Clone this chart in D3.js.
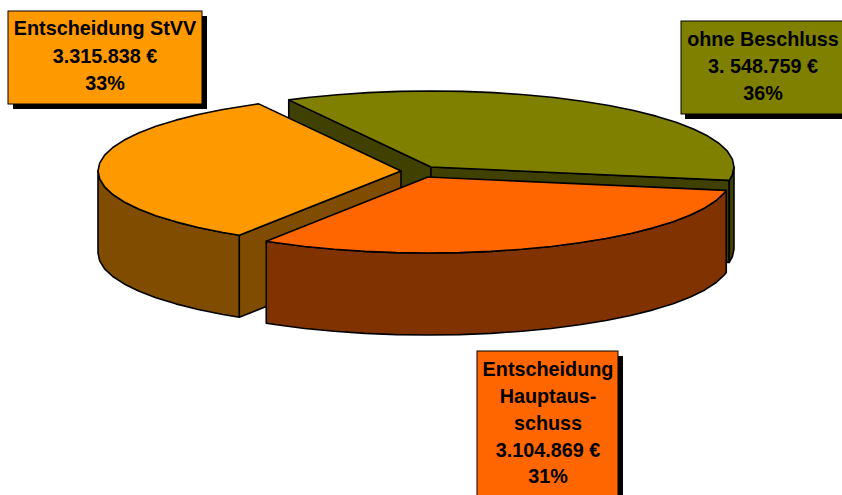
<!DOCTYPE html>
<html><head><meta charset="utf-8">
<style>html,body{margin:0;padding:0;background:#fff;overflow:hidden}svg{display:block}
text{font-family:"Liberation Sans",Arial,sans-serif;font-weight:bold;font-size:19.8px;text-anchor:middle;fill:#000}</style>
<script src="https://cdnjs.cloudflare.com/ajax/libs/d3/7.8.5/d3.min.js"></script>
</head><body><svg id="c" width="842" height="495"></svg>
<script>
const categories = ["ohne Beschluss", "Entscheidung Hauptausschuss", "Entscheidung StVV"];
const values = [3548759, 3104869, 3315838];
const valueLabels = ["3. 548.759 €", "3.104.869 €", "3.315.838 €"];
const percentLabels = ["36%", "31%", "33%"];
const nameLines = [["ohne Beschluss"], ["Entscheidung", "Hauptaus-", "schuss"], ["Entscheidung StVV"]];
const topColors = ["#808000", "#FF6600", "#FF9900"];
const sideColors = ["#404000", "#803300", "#804D00"];

// layout
const rx = 303, ry = 76, depth = 82;
const apex = [[431,167],[428,177],[401,171]];
const boxes = [
  {x:681,y:21,w:170,h:93,sx:4,sy:5,cx:763,base:[46,73,100]},
  {x:477,y:351,w:141,h:150,sx:5,sy:5,cx:548,base:[376,403,430,457,483]},
  {x:8,y:11,w:194,h:93,sx:5,sy:5,cx:105,base:[35,63,90]}
];
const drawOrder = [0,2,1];
const startDeg = -118, facet = 6;
const rad = Math.PI/180;

const svg = d3.select("#c");
const pie = d3.pie().sort(null).startAngle(startDeg*rad).endAngle((startDeg+360)*rad);
const arcs = pie(values);
const line = d3.line();
const sx = d3.scaleLinear().domain([-1,1]).range([-rx,rx]);
const sy = d3.scaleLinear().domain([-1,1]).range([-ry,ry]);

function rim(i,a,dz=0){return [apex[i][0]+sx(Math.cos(a)),apex[i][1]+sy(Math.sin(a))+dz];}
function rimPts(i,a0,a1,dz=0){
  const pts=[];
  const f=facet*rad; pts.push(rim(i,a0,dz));
  for(let k=Math.ceil(a0/f+1e-6);k*f<a1-1e-6;k++)pts.push(rim(i,k*f,dz));
  pts.push(rim(i,a1,dz));
  return pts;
}
function poly(pts,fill){
  svg.append("path").attr("d",line(pts)+"Z").attr("fill",fill)
    .attr("stroke","#000").attr("stroke-width",1.6).attr("stroke-linejoin","round");
}
drawOrder.forEach(i=>{
  const d=arcs[i],a0=d.startAngle,a1=d.endAngle,c=apex[i],side=sideColors[i];
  const low=p=>[p[0],p[1]+depth];
  if(Math.sin(a0-Math.PI/2)>0){const r=rim(i,a0);poly([c,r,low(r),low(c)],side);}
  if(Math.sin(a1+Math.PI/2)>0){const r=rim(i,a1);poly([c,r,low(r),low(c)],side);}
  [[0,Math.PI],[2*Math.PI,3*Math.PI]].forEach(([lo,hi])=>{
    const s=Math.max(a0,lo),e=Math.min(a1,hi);
    if(e>s){const top=rimPts(i,s,e),bot=rimPts(i,s,e,depth).reverse();poly(top.concat(bot),side);}
  });
  poly([c].concat(rimPts(i,a0,a1)),topColors[i]);
});
boxes.forEach((b,i)=>{
  svg.append("rect").attr("x",b.x+b.sx).attr("y",b.y+b.sy).attr("width",b.w).attr("height",b.h).attr("fill","#000");
  svg.append("rect").attr("x",b.x).attr("y",b.y).attr("width",b.w).attr("height",b.h)
    .attr("fill",topColors[i]).attr("stroke","#000").attr("stroke-width",1);
  const lines=nameLines[i].concat([valueLabels[i],percentLabels[i]]);
  lines.forEach((t,k)=>svg.append("text").attr("x",b.cx).attr("y",b.base[k]).text(t));
});
</script></body></html>
